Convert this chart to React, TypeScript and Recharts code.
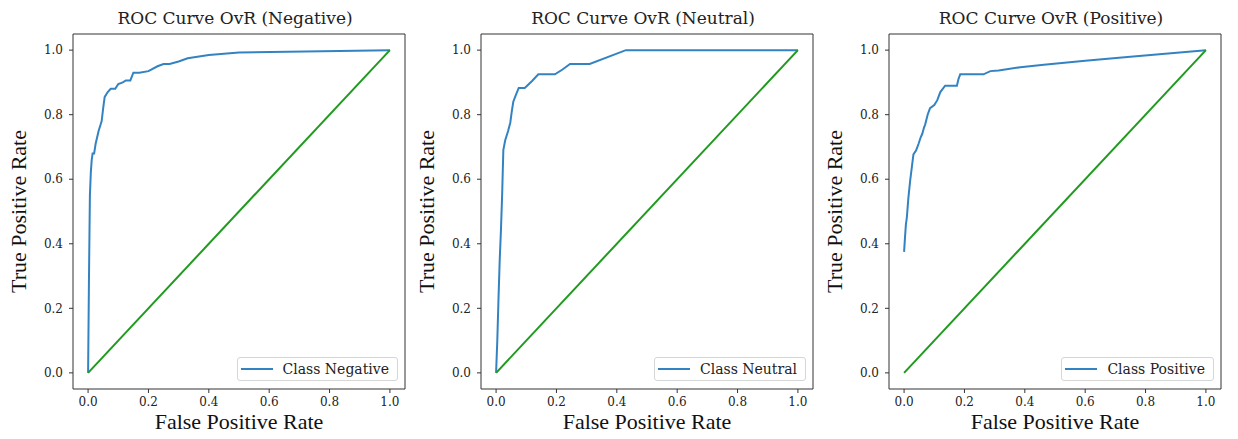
import { LineChart, Line, XAxis, YAxis, ReferenceArea, Legend } from "recharts";

const BLUE = "#3383c3";
const GREEN = "#1f9a1f";
const AXIS = "#333";

const TICKS = [0, 0.2, 0.4, 0.6, 0.8, 1.0];

// one-vs-rest ROC points per class
const fprNegative = [0, 0.003, 0.006, 0.009, 0.012, 0.015, 0.02, 0.025, 0.035, 0.04, 0.045, 0.05, 0.055, 0.065, 0.075, 0.09, 0.1, 0.115, 0.125, 0.14, 0.15, 0.17, 0.2, 0.23, 0.25, 0.27, 0.3, 0.33, 0.4, 0.5, 1.0];
const tprNegative = [0, 0.3, 0.55, 0.62, 0.66, 0.68, 0.68, 0.71, 0.75, 0.765, 0.78, 0.82, 0.855, 0.87, 0.88, 0.88, 0.895, 0.9, 0.906, 0.906, 0.93, 0.93, 0.935, 0.95, 0.957, 0.957, 0.965, 0.975, 0.985, 0.993, 1.0];

const fprNeutral = [0, 0.004, 0.008, 0.012, 0.016, 0.02, 0.022, 0.024, 0.03, 0.04, 0.047, 0.052, 0.057, 0.065, 0.075, 0.095, 0.12, 0.14, 0.195, 0.22, 0.245, 0.31, 0.43, 1.0];
const tprNeutral = [0, 0.1, 0.23, 0.35, 0.44, 0.55, 0.62, 0.69, 0.72, 0.75, 0.775, 0.81, 0.84, 0.86, 0.883, 0.883, 0.905, 0.925, 0.925, 0.94, 0.957, 0.957, 1.0, 1.0];

const fprPositive = [0, 0.003, 0.006, 0.009, 0.014, 0.02, 0.026, 0.031, 0.04, 0.048, 0.055, 0.06, 0.066, 0.07, 0.078, 0.086, 0.1, 0.11, 0.12, 0.136, 0.175, 0.18, 0.186, 0.263, 0.286, 0.313, 0.385, 0.463, 0.6, 0.74, 1.0];
const tprPositive = [0.375, 0.42, 0.46, 0.48, 0.54, 0.595, 0.64, 0.677, 0.69, 0.71, 0.73, 0.74, 0.76, 0.77, 0.8, 0.82, 0.83, 0.845, 0.87, 0.89, 0.89, 0.91, 0.925, 0.925, 0.935, 0.937, 0.947, 0.955, 0.967, 0.979, 1.0];

// chance diagonal
const chanceFpr = [0, 1];
const chanceTpr = [0, 1];

const zip = (fpr: number[], tpr: number[]) => fpr.map((x, i) => ({ x, y: tpr[i] }));

const panels = [
  { title: "ROC Curve OvR (Negative)", label: "Class Negative", fpr: fprNegative, tpr: tprNegative },
  { title: "ROC Curve OvR (Neutral)", label: "Class Neutral", fpr: fprNeutral, tpr: tprNeutral },
  { title: "ROC Curve OvR (Positive)", label: "Class Positive", fpr: fprPositive, tpr: tprPositive },
];

const CHART_W = 410;
const CHART_H = 439;
const PANEL_STEP = 408;
const Y_AXIS_W = 73;
const X_AXIS_H = 50;
const MARGIN = { top: 34, right: 5, bottom: 0, left: 0 };

const tickStyle = { fontFamily: "DejaVu Serif", fontSize: 12, fill: "#222" };
const labelStyle = { fontFamily: "Liberation Serif", fontSize: 22, fill: "#111" };

const makeLegend = (label: string) => () => (
  <div
    style={{
      display: "flex",
      alignItems: "center",
      height: 22,
      padding: "0 8px 0 3px",
      border: "1px solid #d6d6d6",
      borderRadius: 3,
      background: "rgba(255,255,255,0.8)",
    }}
  >
    <svg width={32} height={4}>
      <line x1={0} y1={2} x2={32} y2={2} stroke={BLUE} strokeWidth={2} />
    </svg>
    <span style={{ marginLeft: 10, fontFamily: "DejaVu Serif", fontSize: 14, color: "#222", whiteSpace: "nowrap" }}>
      {label}
    </span>
  </div>
);

function RocPanel({ title, label, fpr, tpr }: { title: string; label: string; fpr: number[]; tpr: number[] }) {
  const curve = zip(fpr, tpr);
  const chance = zip(chanceFpr, chanceTpr);
  return (
    <div style={{ position: "relative", width: CHART_W, height: CHART_H }}>
      <div
        style={{
          position: "absolute",
          left: Y_AXIS_W - 4,
          top: 8,
          width: CHART_W - Y_AXIS_W - MARGIN.right,
          textAlign: "center",
          fontFamily: "DejaVu Serif",
          fontSize: 17,
          lineHeight: "20px",
          color: "#222",
          whiteSpace: "nowrap",
        }}
      >
        {title}
      </div>
      <LineChart width={CHART_W} height={CHART_H} margin={MARGIN}>
        <XAxis
          type="number"
          dataKey="x"
          domain={[-0.05, 1.05]}
          allowDataOverflow
          ticks={TICKS}
          tickFormatter={(v: number) => v.toFixed(1)}
          height={X_AXIS_H}
          axisLine={false}
          tickLine={{ stroke: AXIS }}
          tickSize={4}
          tickMargin={4}
          tick={tickStyle}
          label={{ value: "False Positive Rate", position: "insideBottom", offset: 10, style: labelStyle }}
        />
        <YAxis
          type="number"
          dataKey="y"
          domain={[-0.05, 1.05]}
          allowDataOverflow
          ticks={TICKS}
          tickFormatter={(v: number) => v.toFixed(1)}
          width={Y_AXIS_W}
          axisLine={false}
          tickLine={{ stroke: AXIS }}
          tickSize={4}
          tickMargin={6}
          tick={tickStyle}
          label={{
            value: "True Positive Rate",
            angle: -90,
            position: "insideLeft",
            offset: 18,
            style: { ...labelStyle, textAnchor: "middle" },
          }}
        />
        <ReferenceArea x1={-0.05} x2={1.05} y1={-0.05} y2={1.05} fill="none" stroke={AXIS} strokeWidth={1} />
        <Line
          data={curve}
          dataKey="y"
          name={label}
          type="linear"
          stroke={BLUE}
          strokeWidth={2}
          dot={false}
          isAnimationActive={false}
        />
        <Line
          data={chance}
          dataKey="y"
          type="linear"
          stroke={GREEN}
          strokeWidth={2}
          dot={false}
          legendType="none"
          isAnimationActive={false}
        />
        <Legend
          layout="horizontal"
          verticalAlign="middle"
          align="center"
          content={makeLegend(label)}
          wrapperStyle={{ left: "auto", right: 12, top: 357, bottom: "auto", width: "auto", height: "auto" }}
        />
      </LineChart>
    </div>
  );
}

export default function App() {
  return (
    <div style={{ position: "relative", width: 1238, height: 439, margin: -8, background: "#fff" }}>
      {panels.map((p, i) => (
        <div key={p.title} style={{ position: "absolute", left: i * PANEL_STEP, top: 0 }}>
          <RocPanel {...p} />
        </div>
      ))}
    </div>
  );
}
